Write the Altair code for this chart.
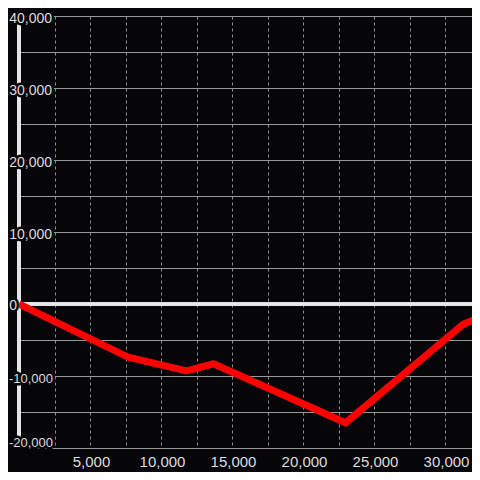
import altair as alt
import pandas as pd

# data
xs = [0, 7700, 11800, 13700, 23000, 31300, 32500]
ys = [0, -7400, -9300, -8300, -16500, -2800, -1850]

y_ticks = [-20000, -10000, 0, 10000, 20000, 30000, 40000]
y_grid = list(range(-20000, 40001, 5000))
x_grid = list(range(2500, 30001, 2500))

BG = "#060509"
FG = "#dddddd"
FONT = "Liberation Sans"

line_df = pd.DataFrame({"x": xs, "y": ys})
lab_df = pd.DataFrame({"y": y_ticks, "label": [f"{v:,}" for v in y_ticks]})

xscale = alt.Scale(domain=[0, 31900], nice=False, zero=False)
yscale = alt.Scale(domain=[-20000, 40000], nice=False, zero=False)

xaxis = alt.Axis(
    values=x_grid, title=None, domain=False, ticks=False,
    grid=True, gridColor="#8c8c8c", gridDash=[3, 3], gridWidth=1,
    labelExpr="datum.value % 5000 === 0 ? format(datum.value, ',') : ''",
    labelColor=FG, labelFontSize=15, labelFont=FONT,
    labelPadding=6, labelOffset=1,
)
yaxis = alt.Axis(
    values=y_grid, title=None, domain=False, ticks=False, labels=False,
    grid=True, gridColor="#999999", gridWidth=1,
)

zero_rule = alt.Chart(line_df).mark_rule(color="#e6e6e6", strokeWidth=3).encode(
    y=alt.Y(datum=0, type="quantitative", scale=yscale, axis=yaxis)
)
yaxis_rule = alt.Chart(line_df).mark_rule(color="#e6e6e6", strokeWidth=3).encode(
    x=alt.X(datum=0, type="quantitative", scale=xscale, axis=xaxis),
    y=alt.value(0),
    y2=alt.value(432),
)


def label_layers(filt, xpos, dy, size):
    layers = []
    for halo in (True, False):
        kw = dict(align="right", baseline="alphabetic", fontSize=size, font=FONT, dy=dy)
        if halo:
            kw.update(fill=BG, stroke=BG, strokeWidth=5, strokeJoin="round")
        else:
            kw.update(fill=FG)
        layers.append(
            alt.Chart(lab_df).transform_filter(filt).mark_text(**kw).encode(
                x=alt.value(xpos),
                y=alt.Y("y:Q", scale=yscale, axis=yaxis),
                text="label:N",
            )
        )
    return layers


pos_labels = label_layers("datum.y > 0", 33, 7, 14)
neg_labels = label_layers("datum.y == -10000", 34, 7, 13)
zero_label = label_layers("datum.y == 0", -2, 6, 14)
bottom_label = label_layers("datum.y == -20000", 34, -1, 13)

line = alt.Chart(line_df).mark_line(
    color="#ff0000", strokeWidth=7, clip=True, strokeJoin="miter"
).encode(
    x=alt.X("x:Q", scale=xscale, axis=xaxis),
    y=alt.Y("y:Q", scale=yscale, axis=yaxis),
)

chart = alt.layer(
    zero_rule, yaxis_rule, *pos_labels, *neg_labels, *zero_label, *bottom_label, line
).properties(
    width=453, height=432,
    autosize=alt.AutoSizeParams(type="none"),
    padding={"left": 11, "top": 8, "right": 0, "bottom": 24},
    background=BG,
).configure_view(stroke=None)

chart.save("out.html", embed_options={"renderer": "svg", "actions": False})
